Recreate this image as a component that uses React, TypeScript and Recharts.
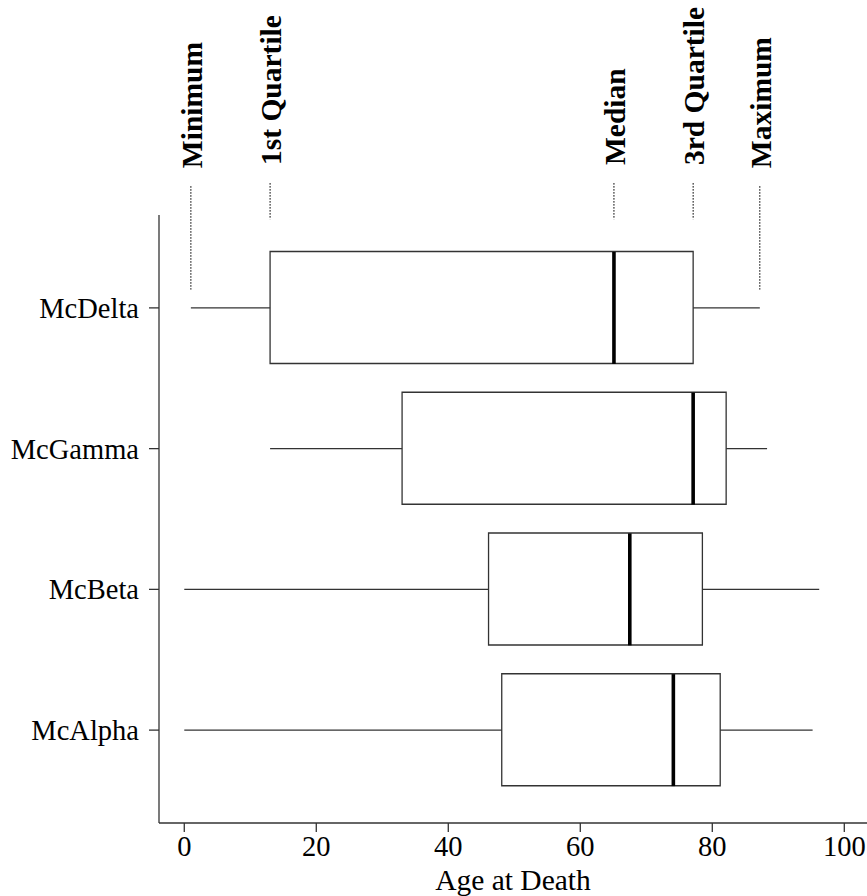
import React from 'react';
import { ComposedChart, Bar, Scatter, XAxis, YAxis, ReferenceLine, Label } from 'recharts';

// ---- data ----
const groups = ['McAlpha', 'McBeta', 'McGamma', 'McDelta'];
const positions = [1, 2, 3, 4];
const minimums = [0, 0, 13, 1];
const firstQuartiles = [48.1, 46.1, 33, 13];
const medians = [74.1, 67.5, 77.1, 65.1];
const thirdQuartiles = [81.2, 78.5, 82.1, 77.1];
const maximums = [95.2, 96.2, 88.3, 87.2];
const xTicks = [0, 20, 40, 60, 80, 100];
const annotationLabels = ['Minimum', '1st Quartile', 'Median', '3rd Quartile', 'Maximum'];
const annotatedGroup = 'McDelta';

const rows = groups.map((name, i) => ({
  name,
  pos: positions[i],
  min: minimums[i],
  q1: firstQuartiles[i],
  med: medians[i],
  q3: thirdQuartiles[i],
  max: maximums[i],
  box: [firstQuartiles[i], thirdQuartiles[i]],
}));

const FONT = '"Liberation Serif", "Times New Roman", serif';
const LINE = '#333';

const annotRow = rows.find((r) => r.name === annotatedGroup)!;
const annotValues = [annotRow.min, annotRow.q1, annotRow.med, annotRow.q3, annotRow.max];
const annotIsWhisker = [true, false, false, false, true];

const MedianShape = (props: any) => {
  const { cx, cy } = props;
  if (cx == null || cy == null) return null;
  return <line x1={cx} x2={cx} y1={cy - 56} y2={cy + 56} stroke="#000" strokeWidth={3.6} />;
};

const makeAnnotShape = (label: string) => (props: any) => {
  const { x1, y1, x2, y2 } = props;
  if (x1 == null) return null;
  const top = Math.min(y1, y2);
  return (
    <g>
      <line x1={x1} y1={y1} x2={x2} y2={y2} stroke="#000" strokeWidth={1} strokeDasharray="1.6 1.4" />
      <text
        transform={`translate(${x1 + 11}, ${top - 18}) rotate(-90)`}
        textAnchor="start"
        fontFamily={FONT}
        fontWeight="bold"
        fontSize={29.5}
        fill="#000"
      >
        {label}
      </text>
    </g>
  );
};

export default function App() {
  return (
    <div style={{ position: 'absolute', left: 0, top: 0, background: '#fff' }}>
      <ComposedChart
        width={867}
        height={896}
        layout="vertical"
        data={rows}
        margin={{ top: 215, right: 0, bottom: 0, left: 0 }}
      >
        <XAxis
          type="number"
          domain={[-3.83, 103.44]}
          ticks={xTicks}
          allowDataOverflow
          height={73}
          tickSize={9}
          tickMargin={4}
          axisLine={{ stroke: LINE, strokeWidth: 1.3 }}
          tickLine={{ stroke: LINE, strokeWidth: 1.3 }}
          tick={{ fill: '#000', fontSize: 28.5, fontFamily: FONT }}
        >
          <Label
            value="Age at Death"
            position="insideBottom"
            offset={6}
            style={{ fill: '#000', fontSize: 29.5, fontFamily: FONT }}
          />
        </XAxis>
        <YAxis
          type="number"
          dataKey="pos"
          domain={[0.34, 4.66]}
          ticks={positions}
          reversed
          allowDataOverflow
          width={159}
          tickSize={10}
          tickMargin={10}
          tickFormatter={(v: number) => groups[positions.indexOf(v)] ?? ''}
          axisLine={{ stroke: LINE, strokeWidth: 1.3 }}
          tickLine={{ stroke: LINE, strokeWidth: 1.3 }}
          tick={{ fill: '#000', fontSize: 28.5, fontFamily: FONT }}
        />
        {rows.map((r) => (
          <ReferenceLine
            key={`wl-${r.name}`}
            segment={[{ x: r.min, y: r.pos }, { x: r.q1, y: r.pos }]}
            stroke={LINE}
            strokeWidth={1.3}
          />
        ))}
        {rows.map((r) => (
          <ReferenceLine
            key={`wh-${r.name}`}
            segment={[{ x: r.q3, y: r.pos }, { x: r.max, y: r.pos }]}
            stroke={LINE}
            strokeWidth={1.3}
          />
        ))}
        <Bar
          dataKey="box"
          barSize={112}
          fill="#fff"
          stroke={LINE}
          strokeWidth={1.3}
          isAnimationActive={false}
        />
        <Scatter dataKey="med" shape={MedianShape} isAnimationActive={false} />
        {annotValues.map((v, i) => (
          <ReferenceLine
            key={`an-${i}`}
            segment={[
              { x: v, y: annotIsWhisker[i] ? 4.865 : 4.887 },
              { x: v, y: annotIsWhisker[i] ? 4.13 : 4.63 },
            ]}
            ifOverflow="visible"
            stroke="#000"
            shape={makeAnnotShape(annotationLabels[i])}
          />
        ))}
      </ComposedChart>
    </div>
  );
}
